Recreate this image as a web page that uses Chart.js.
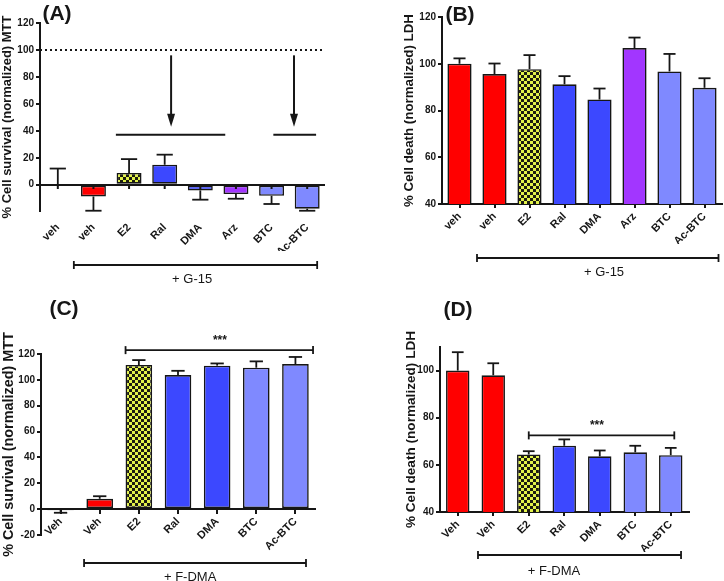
<!DOCTYPE html>
<html>
<head>
<meta charset="utf-8">
<script src="https://cdn.jsdelivr.net/npm/chart.js@4.4.0/dist/chart.umd.min.js"></script>
<style>
  html, body { margin: 0; padding: 0; background: #fff; }
  #wrap { position: relative; width: 724px; height: 581px; overflow: hidden; }
  canvas { position: absolute; }
</style>
</head>
<body>
<div id="wrap">
  <canvas id="chart-a" width="362" height="290" style="left:0;top:0"></canvas>
  <canvas id="chart-b" width="362" height="290" style="left:362px;top:0"></canvas>
  <canvas id="chart-c" width="362" height="291" style="left:0;top:290px"></canvas>
  <canvas id="chart-d" width="362" height="291" style="left:362px;top:290px"></canvas>
</div>
<script>
(function () {
  'use strict';

  // ---- data ----
  const LABELS_G15  = ['veh', 'veh', 'E2', 'Ral', 'DMA', 'Arz', 'BTC', 'Ac-BTC'];
  const LABELS_FDMA = ['Veh', 'Veh', 'E2', 'Ral', 'DMA', 'BTC', 'Ac-BTC'];

  const MTT_G15      = [0, -8.7, 8.7, 14.8, -4.2, -6.9, -8.2, -17.8];
  const MTT_G15_SEM  = [12, 10.6, 10.3, 7.5, 6.9, 3.5, 6.1, 1.5];
  const LDH_G15      = [100, 95.6, 97.7, 91.2, 84.7, 106.7, 96.7, 89.7];
  const LDH_G15_SEM  = [2.3, 4.5, 6.0, 3.5, 4.7, 4.5, 7.5, 4.1];
  const MTT_FDMA     = [-0.5, 8, 111.5, 103.7, 111, 109.4, 112.2];
  const MTT_FDMA_SEM = [2.3, 2, 3.8, 3.3, 1.7, 4.9, 5.5];
  const LDH_FDMA     = [100, 98, 64.4, 68.1, 63.6, 65.3, 64.1];
  const LDH_FDMA_SEM = [7.8, 5.1, 1.4, 2.7, 2.5, 2.8, 3.1];

  const KIND_G15  = ['none', 'red', 'check', 'blue', 'blue', 'purple', 'light', 'light'];
  const KIND_G15B = ['red', 'red', 'check', 'blue', 'blue', 'purple', 'light', 'light'];
  const KIND_FDMA = ['none', 'red', 'check', 'blue', 'blue', 'light', 'light'];
  const KIND_FDMD = ['red', 'red', 'check', 'blue', 'blue', 'light', 'light'];

  const INK  = '#161616';
  const FONT = '"Liberation Sans", Arial, Helvetica, sans-serif';
  Chart.defaults.font.family = FONT;

  function checker() {
    const c = document.createElement('canvas');
    c.width = 6; c.height = 6;
    const g = c.getContext('2d');
    g.fillStyle = '#E2F24A'; g.fillRect(0, 0, 6, 6);
    g.fillStyle = '#1c1c10'; g.fillRect(0, 0, 3, 3); g.fillRect(3, 3, 3, 3);
    return g.createPattern(c, 'repeat');
  }
  const CHECK = checker();
  const FILLS = {
    none: 'rgba(0,0,0,0)', red: '#FF0000', blue: '#3C48FF',
    purple: '#A236FF', light: '#7F89FF', check: CHECK,
  };

  function line(ctx, x0, y0, x1, y1) {
    ctx.beginPath(); ctx.moveTo(x0, y0); ctx.lineTo(x1, y1); ctx.stroke();
  }
  function bracket(ctx, x0, x1, y) {
    line(ctx, x0, y, x1, y);
    line(ctx, x0, y - 4, x0, y + 4);
    line(ctx, x1, y - 4, x1, y + 4);
  }

  const extras = {
    id: 'extras',
    afterDatasetsDraw(chart, args, o) {
      const ctx = chart.ctx, xs = chart.scales.x, ys = chart.scales.y;
      const area = chart.chartArea;
      const ds = chart.data.datasets[0];
      const meta = chart.getDatasetMeta(0);
      ctx.save();
      ctx.strokeStyle = INK; ctx.fillStyle = INK; ctx.lineCap = 'butt';

      // error bars (one side, away from zero)
      ctx.lineWidth = 1.8;
      meta.data.forEach((bar, i) => {
        const v = ds.data[i];
        const dir = v < 0 ? -1 : 1;
        const y0 = ys.getPixelForValue(v);
        const y1 = ys.getPixelForValue(v + dir * ds.sem[i]);
        const half = bar.width * o.cap / 2;
        line(ctx, bar.x, y0, bar.x, y1);
        line(ctx, bar.x - half, y1, bar.x + half, y1);
      });

      // x axis drawn at zero with ticks
      if (o.zeroLine) {
        const y = Math.round(ys.getPixelForValue(0));
        ctx.lineWidth = 2;
        line(ctx, area.left, y, area.right, y);
        meta.data.forEach(bar => line(ctx, bar.x, y, bar.x, y + 4));
      }

      if (o.dotted != null) {
        const y = Math.round(ys.getPixelForValue(o.dotted));
        ctx.lineWidth = 2; ctx.setLineDash([2, 3]);
        line(ctx, area.left, y, area.right, y);
        ctx.setLineDash([]);
      }

      ctx.lineWidth = 2;
      (o.hlines || []).forEach(h => {
        const y = ys.getPixelForValue(h.y);
        line(ctx, xs.getPixelForValue(h.x0), y, xs.getPixelForValue(h.x1), y);
      });

      (o.arrows || []).forEach(a => {
        const x = xs.getPixelForValue(a.x);
        const y0 = ys.getPixelForValue(a.y0), y1 = ys.getPixelForValue(a.y1);
        line(ctx, x, y0, x, y1 - 10);
        ctx.beginPath();
        ctx.moveTo(x - 4, y1 - 13); ctx.lineTo(x + 4, y1 - 13); ctx.lineTo(x, y1);
        ctx.closePath(); ctx.fill();
      });

      // significance bracket in value units
      (o.sig || []).forEach(s => {
        ctx.lineWidth = 1.8;
        bracket(ctx, xs.getPixelForValue(s.x0), xs.getPixelForValue(s.x1), ys.getPixelForValue(s.y));
        ctx.font = 'bold 12px ' + FONT;
        ctx.textAlign = 'center'; ctx.textBaseline = 'middle';
        ctx.fillText(s.text, xs.getPixelForValue(s.tx), ys.getPixelForValue(s.ty));
      });

      // treatment bracket under the axis
      if (o.under) {
        const u = o.under;
        ctx.lineWidth = 1.8;
        bracket(ctx, xs.getPixelForValue(u.x0), xs.getPixelForValue(u.x1), u.y);
        ctx.font = '13px ' + FONT;
        ctx.textAlign = 'center'; ctx.textBaseline = 'middle';
        ctx.fillText(u.text, xs.getPixelForValue(u.tx), u.ty);
      }

      if (o.panel) {
        ctx.font = 'bold 21px ' + FONT;
        ctx.textAlign = 'center'; ctx.textBaseline = 'middle';
        ctx.fillText(o.panel.text, o.panel.x, o.panel.y);
      }
      ctx.restore();
    },
  };

  function build(id, p) {
    return new Chart(document.getElementById(id), {
      type: 'bar',
      data: {
        labels: p.labels,
        datasets: [{
          data: p.mean,
          sem: p.sem,
          backgroundColor: p.kinds.map(k => FILLS[k]),
          borderColor: INK,
          borderWidth: 1.6,
          borderSkipped: false,
          barPercentage: p.barPct,
          categoryPercentage: 1,
        }],
      },
      options: {
        responsive: false,
        animation: false,
        layout: { padding: p.pad },
        plugins: {
          legend: { display: false },
          tooltip: { enabled: false },
          extras: p.extras,
        },
        scales: {
          x: {
            position: p.xPos,
            offset: true,
            afterFit: s => { if (p.xHeight) s.height = p.xHeight; },
            border: { display: p.xBorder, color: INK, width: 2 },
            grid: {
              display: p.xBorder, drawOnChartArea: false, drawTicks: true,
              tickLength: 4, offset: false, color: INK, lineWidth: 2,
            },
            ticks: {
              color: INK, font: { size: 11, weight: 'bold' },
              minRotation: 45, maxRotation: 45, padding: p.xPad, autoSkip: false,
            },
          },
          y: {
            min: p.min,
            max: p.max,
            afterBuildTicks: s => { s.ticks = s.ticks.filter(t => t.value % 20 === 0); },
            afterFit: s => { s.width = p.yWidth; },
            border: { display: true, color: INK, width: 2 },
            grid: {
              drawOnChartArea: false, drawTicks: true, tickLength: 4,
              color: INK, lineWidth: 2,
            },
            ticks: { stepSize: 20, padding: 2, color: INK, font: { size: 10, weight: 'bold' } },
            title: {
              display: true, text: p.yTitle, color: INK,
              font: { size: p.titleSize, weight: 'bold' },
              padding: { top: 0, bottom: 0 },
            },
          },
        },
      },
      plugins: [extras],
    });
  }

  build('chart-a', {
    labels: LABELS_G15, mean: MTT_G15, sem: MTT_G15_SEM, kinds: KIND_G15,
    min: -19.5, max: 120, yWidth: 40, titleSize: 13,
    yTitle: '% Cell survival (normalized) MTT',
    pad: { left: 0, top: 23, right: 37, bottom: 39 },
    xPos: 'bottom', xBorder: false, xHeight: 40, xPad: 6, barPct: 0.7,
    extras: {
      cap: 0.65, zeroLine: true, dotted: 100,
      hlines: [{ x0: 1.63, x1: 4.7, y: 37 }, { x0: 6.05, x1: 7.25, y: 37 }],
      arrows: [{ x: 3.18, y0: 96, y1: 43 }, { x: 6.63, y0: 96, y1: 43 }],
      under: { x0: 0.45, x1: 7.28, y: 265, text: '+ G-15', tx: 3.77, ty: 279 },
      panel: { text: '(A)', x: 57, y: 14 },
    },
  });

  build('chart-b', {
    labels: LABELS_G15, mean: LDH_G15, sem: LDH_G15_SEM, kinds: KIND_G15B,
    min: 40, max: 120, yWidth: 41, titleSize: 13.3,
    yTitle: '% Cell death (normalized) LDH',
    pad: { left: 39, top: 17, right: 2, bottom: 46 },
    xPos: 'bottom', xBorder: true, xHeight: 40, xPad: 2, barPct: 0.69,
    extras: {
      cap: 0.5,
      under: { x0: 0.5, x1: 7.4, y: 258, text: '+ G-15', tx: 4.13, ty: 272 },
      panel: { text: '(B)', x: 98, y: 15 },
    },
  });

  build('chart-c', {
    labels: LABELS_FDMA, mean: MTT_FDMA, sem: MTT_FDMA_SEM, kinds: KIND_FDMA,
    min: -20, max: 120, yWidth: 41, titleSize: 14.4,
    yTitle: '% Cell survival (normalized) MTT',
    pad: { left: 0, top: 64, right: 47, bottom: 46 },
    xPos: { y: 0 }, xBorder: true, xHeight: 0, xPad: 2, barPct: 0.68,
    extras: {
      cap: 0.5,
      sig: [{ x0: 1.66, x1: 6.45, y: 123, text: '***', tx: 4.07, ty: 130 }],
      under: { x0: 0.6, x1: 6.27, y: 273, text: '+ F-DMA', tx: 3.31, ty: 287 },
      panel: { text: '(C)', x: 64, y: 19 },
    },
  });

  build('chart-d', {
    labels: LABELS_FDMA, mean: LDH_FDMA, sem: LDH_FDMA_SEM, kinds: KIND_FDMD,
    min: 40, max: 110, yWidth: 36.5, titleSize: 13.6,
    yTitle: '% Cell death (normalized) LDH',
    pad: { left: 41.5, top: 57, right: 35.5, bottom: 29 },
    xPos: 'bottom', xBorder: true, xHeight: 40, xPad: 2, barPct: 0.66,
    extras: {
      cap: 0.5,
      sig: [{ x0: 2.0, x1: 6.1, y: 72.5, text: '***', tx: 3.92, ty: 76.7 }],
      under: { x0: 0.57, x1: 6.29, y: 265, text: '+ F-DMA', tx: 2.71, ty: 281 },
      panel: { text: '(D)', x: 96, y: 20 },
    },
  });
})();
</script>
</body>
</html>
